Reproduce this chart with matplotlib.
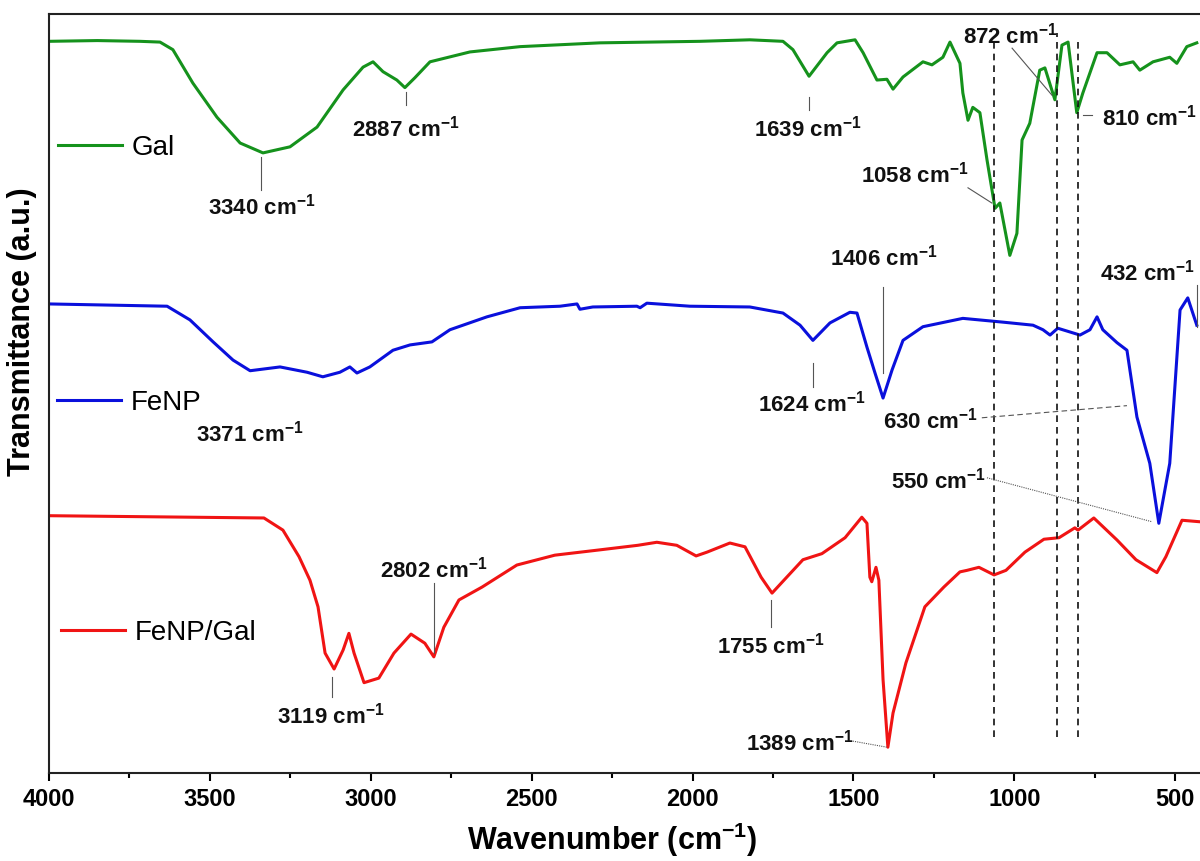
import matplotlib
matplotlib.use("Agg")
import matplotlib.pyplot as plt
from matplotlib.ticker import MultipleLocator

plt.rcParams["font.family"] = ["Liberation Sans", "DejaVu Sans"]
plt.rcParams["mathtext.fontset"] = "custom"
plt.rcParams["mathtext.rm"] = "Liberation Sans"
plt.rcParams["mathtext.bf"] = "Liberation Sans:bold"
plt.rcParams["mathtext.default"] = "bf"

# spectra (wavenumber in cm-1, offset transmittance in a.u.)
gal_wn = [4000, 3850, 3717, 3655, 3615, 3553, 3478, 3406, 3335, 3251, 3167, 3086,
          3024, 2993, 2962, 2919, 2894, 2863, 2816, 2692, 2536, 2288, 1977, 1822,
          1719, 1688, 1638, 1582, 1551, 1495, 1470, 1427, 1396, 1377, 1346, 1284,
          1256, 1222, 1200, 1169, 1160, 1144, 1129, 1107, 1085, 1060, 1045, 1014,
          992, 976, 952, 921, 905, 874, 852, 833, 806, 787, 743, 712, 672, 631,
          610, 569, 517, 495, 464, 433]
gal_t = [96.4, 96.5, 96.4, 96.3, 95.3, 90.9, 86.4, 83.0, 81.7, 82.5, 85.1, 90.0,
         93.0, 93.7, 92.4, 91.3, 90.3, 91.6, 93.7, 95.0, 95.7, 96.2, 96.4, 96.6,
         96.4, 95.3, 91.8, 94.9, 96.2, 96.6, 94.9, 91.3, 91.4, 90.1, 91.7, 93.7,
         93.3, 94.3, 96.3, 93.5, 89.6, 86.0, 87.7, 87.0, 80.8, 74.4, 75.1, 68.2,
         71.1, 83.4, 85.6, 92.6, 92.9, 88.7, 95.9, 96.3, 87.0, 89.6, 94.9, 94.9,
         93.3, 93.7, 92.6, 93.7, 94.3, 93.5, 95.7, 96.2]

fenp_wn = [4000, 3633, 3562, 3490, 3428, 3375, 3282, 3198, 3149, 3096, 3065, 3043,
           3003, 2931, 2878, 2810, 2754, 2639, 2536, 2412, 2359, 2350, 2310, 2173,
           2163, 2142, 2008, 1822, 1719, 1666, 1626, 1573, 1511, 1489, 1458, 1433,
           1408, 1380, 1346, 1284, 1160, 1035, 942, 911, 889, 865, 796, 765, 743,
           725, 681, 650, 619, 579, 551, 517, 485, 461, 433]
fenp_t = [61.8, 61.5, 59.7, 56.8, 54.4, 53.0, 53.5, 52.8, 52.2, 52.8, 53.5, 52.7,
          53.5, 55.7, 56.4, 56.8, 58.4, 60.1, 61.3, 61.5, 61.8, 61.1, 61.4, 61.5,
          61.3, 61.9, 61.5, 61.4, 60.6, 59.0, 57.0, 59.3, 60.7, 60.6, 56.1, 52.7,
          49.4, 53.1, 57.0, 58.8, 59.9, 59.4, 59.0, 58.4, 57.7, 58.6, 57.7, 58.4,
          60.1, 58.4, 56.7, 55.7, 46.9, 40.8, 32.9, 40.8, 61.0, 62.6, 59.0]

mix_wn = [4000, 3332, 3273, 3223, 3189, 3164, 3142, 3114, 3086, 3068, 3052, 3021,
          2975, 2928, 2875, 2832, 2804, 2773, 2726, 2654, 2546, 2428, 2288, 2170,
          2111, 2049, 1989, 1955, 1884, 1837, 1787, 1753, 1716, 1657, 1598, 1526,
          1474, 1458, 1449, 1443, 1430, 1421, 1408, 1393, 1377, 1337, 1278, 1219,
          1169, 1147, 1110, 1063, 1026, 967, 908, 861, 812, 802, 753, 681, 622,
          557, 529, 479, 423]
mix_t = [33.9, 33.6, 32.0, 28.5, 25.4, 21.9, 15.8, 13.7, 16.2, 18.4, 15.8, 11.9,
         12.5, 15.8, 18.3, 17.1, 15.3, 19.2, 22.8, 24.5, 27.4, 28.7, 29.4, 30.0,
         30.4, 30.0, 28.6, 29.1, 30.3, 29.8, 25.8, 23.7, 25.4, 28.1, 28.9, 31.0,
         33.7, 32.9, 25.8, 25.2, 27.1, 25.4, 12.3, 3.4, 7.9, 14.5, 21.9, 24.5,
         26.5, 26.7, 27.1, 26.1, 26.7, 29.1, 30.8, 31.0, 32.3, 32.0, 33.6, 30.7,
         28.1, 26.4, 28.5, 33.3, 33.1]

names = ["Gal", "FeNP", "FeNP/Gal"]
colors = ["#15921c", "#0a10dc", "#f01414"]

# marked bands: dashed guide lines
guide_wn = [1062, 866, 803]
guide_top = [96.2, 97.5, 96.6]

# peak labels: text, text centre (wn, t), leader segment or None, leader style
peaks = [
    ("3340", 3338, 74.7, ((3340, 81.2), (3340, 76.8)), "-"),
    ("2887", 2890, 85.0, ((2892, 89.7), (2892, 88.0)), "-"),
    ("1639", 1641, 85.0, ((1638, 89.1), (1638, 87.4)), "-"),
    ("1058", 1309, 78.9, ((1144, 77.1), (1070, 75.1)), "-"),
    ("872", 1011, 97.2, ((1007, 95.5), (883, 89.3)), "-"),
    ("810", 579, 86.4, ((787, 86.7), (759, 86.7)), "-"),
    ("1406", 1405, 67.9, ((1408, 64.0), (1408, 52.7)), "-"),
    ("432", 585, 66.0, ((433, 64.3), (433, 58.8)), "-"),
    ("1624", 1629, 48.7, ((1626, 54.0), (1626, 50.9)), "-"),
    ("630", 1259, 46.5, ((1101, 46.8), (650, 48.4)), (0, (5, 3))),
    ("550", 1237, 38.6, ((1085, 38.9), (572, 33.1)), (0, (1, 1))),
    ("3371", 3375, 44.8, None, "-"),
    ("3119", 3124, 7.6, ((3121, 12.6), (3121, 10.0)), "-"),
    ("2802", 2804, 26.9, ((2804, 25.0), (2804, 15.8)), "-"),
    ("1755", 1756, 16.9, ((1756, 22.8), (1756, 19.2)), "-"),
    ("1389", 1666, 4.1, ((1502, 4.2), (1396, 3.4)), (0, (1, 1))),
]

legend_pos = [(0.0078, 0.8235), (0.0070, 0.4875), (0.0104, 0.1845)]

fig = plt.figure(figsize=(12, 8.61), dpi=100)
ax = fig.add_axes([49 / 1200, 88 / 861, 1151 / 1200, 759 / 861])

lines = []
for wn, t, c in zip([gal_wn, fenp_wn, mix_wn], [gal_t, fenp_t, mix_t], colors):
    ln, = ax.plot(wn, t, color=c, linewidth=2.2, solid_joinstyle="round")
    lines.append(ln)

ax.vlines(guide_wn, 4.7, guide_top, colors="#111111", linestyles=(0, (4, 3)),
          linewidth=1.2)

for label, x, y, seg, style in peaks:
    ax.text(x, y - 1.1, label + r" cm$^{-1}$", fontsize=16, fontweight="bold",
            ha="center", va="baseline", color="#111111")
    if seg is not None:
        (x0, y0), (x1, y1) = seg
        ax.plot([x0, x1], [y0, y1], color="#555555", linewidth=0.8, linestyle=style)

for i, (ln, name, pos) in enumerate(zip(lines, names, legend_pos)):
    leg = ax.legend([ln], [name], loc="center left", bbox_to_anchor=pos,
                    frameon=False, fontsize=20, handlelength=2.3,
                    handletextpad=0.35, borderpad=0, borderaxespad=0)
    if i < len(lines) - 1:
        ax.add_artist(leg)

ax.set_xlim(4000, 423)
ax.set_ylim(0, 100)
ax.set_xticks([4000, 3500, 3000, 2500, 2000, 1500, 1000, 500])
ax.xaxis.set_minor_locator(MultipleLocator(250))
ax.set_yticks([])
ax.tick_params(axis="x", which="major", direction="out", length=6, width=1.5,
               labelsize=17, pad=5)
ax.tick_params(axis="x", which="minor", direction="out", length=3.5, width=1.5)
for lab in ax.get_xticklabels():
    lab.set_fontweight("bold")
for side in ["left", "bottom", "top"]:
    ax.spines[side].set_linewidth(1.5)
    ax.spines[side].set_color("#222222")
ax.spines["right"].set_visible(False)

ax.set_xlabel(r"Wavenumber (cm$^{-1}$)", fontsize=22, fontweight="bold")
ax.xaxis.set_label_coords(0.489, -0.063)
ax.set_ylabel("Transmittance (a.u.)", fontsize=22, fontweight="bold")
ax.yaxis.set_label_coords(-0.010, 0.581)

fig.savefig("out.png", dpi=100)
